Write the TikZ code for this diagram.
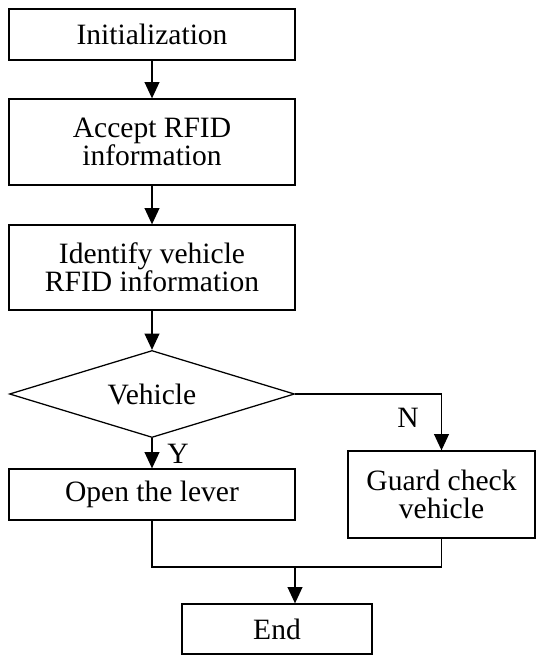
\documentclass[tikz,border=0pt]{standalone}
\usepackage{fontspec}
\setmainfont{Liberation Serif}
\usepackage{tikz}
\usetikzlibrary{shapes.geometric,arrows.meta}
\tikzset{flowbox/.style={draw,line width=0.9pt,inner sep=0pt,align=center,minimum width=7.15cm},
flowarrow/.style={-{Triangle[length=11.5pt,width=10.5pt]},line width=0.9pt},
flowline/.style={line width=0.9pt}}

\begin{document}
\begin{tikzpicture}[x=0.025cm,y=-0.025cm,font=\fontsize{21pt}{20pt}\selectfont]
\useasboundingbox (0,0) rectangle (536,655);
%\draw[-,color=black,dashed] (0,0) grid (536,655);
\node[flowbox,minimum height=1.275cm] (init) at (152,34.5){Initialization};
\node[flowbox,minimum height=2.15cm] (accept) at (152,142){Accept RFID\\information};
\node[flowbox,minimum height=2.125cm] (identify) at (152,267.5){Identify vehicle\\RFID information};
\node[draw,line width=0.9pt,shape=diamond,aspect=3.28,inner sep=0pt,minimum width=7.125cm,minimum height=2.175cm] (vehicle) at (152,394){Vehicle};
\node[flowbox,minimum height=1.275cm] (open) at (152,494.5){Open the lever};
\node[flowbox,minimum width=4.675cm,minimum height=2.175cm] (guard) at (441.5,494.5){Guard check\\vehicle};
\node[flowbox,minimum width=4.75cm,minimum height=1.25cm] (end) at (277,629){End};
\coordinate (join) at (295,567);
\draw[flowarrow] (init) -- (accept);
\draw[flowarrow] (accept) -- (identify);
\draw[flowarrow] (identify) -- (vehicle);
\draw[flowarrow] (vehicle) -- (open);
\draw[flowarrow] (vehicle.east) -| (guard.north);
\node (y) at (178,454){Y};
\node (n) at (408,418){N};
%\draw[flowline] (open.south) -- (join);
\draw[flowline] (open.south) |- (join) -| (guard.south);
\draw[flowarrow] (join) -- (join |- end.north);
\end{tikzpicture}
\end{document}
